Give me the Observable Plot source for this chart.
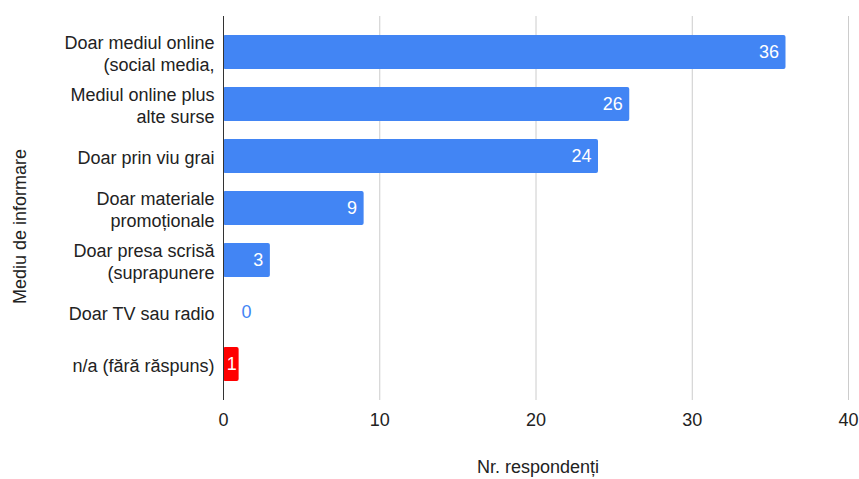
<!DOCTYPE html>
<html>
<head>
<meta charset="utf-8">
<script src="https://cdn.jsdelivr.net/npm/d3@7"></script>
<script src="https://cdn.jsdelivr.net/npm/@observablehq/plot@0.6"></script>
<style>
  html, body { margin: 0; padding: 0; background: #fff; }
</style>
</head>
<body>
<div id="chart"></div>
<script>
const categories = [
  "Doar mediul online\n(social media,",
  "Mediul online plus\nalte surse",
  "Doar prin viu grai",
  "Doar materiale\npromoționale",
  "Doar presa scrisă\n(suprapunere",
  "Doar TV sau radio",
  "n/a (fără răspuns)"
];
const values = [36, 26, 24, 9, 3, 0, 1];
const xTicks = [0, 10, 20, 30, 40];
const xTitle = "Nr. respondenți";
const yTitle = "Mediu de informare";

const data = categories.map((c, i) => ({cat: c, value: values[i]}));
const BLUE = "#4285f4", RED = "#ff0000";
const fillOf = d => d.cat.startsWith("n/a") ? RED : BLUE;
const FONT = "Arial, 'Liberation Sans', sans-serif";

const chart = Plot.plot({
  width: 859,
  height: 479,
  marginLeft: 223,
  marginRight: 11,
  marginTop: 25,
  marginBottom: 88,
  style: {fontFamily: FONT, fontSize: "18px", color: "#222", background: "#fff"},
  x: {domain: [0, 40], axis: null},
  y: {domain: categories, paddingInner: 0.35, paddingOuter: 0.175, axis: null},
  marks: [
    Plot.ruleX(xTicks.filter(t => t > 0), {stroke: "#cccccc", strokeWidth: 1, insetTop: -9, insetBottom: -9}),
    Plot.barX(data, {x: "value", y: "cat", fill: fillOf, rx: 2}),
    Plot.ruleX([0], {stroke: "#333", strokeWidth: 1, insetTop: -9, insetBottom: -9}),
    Plot.text(data.filter(d => d.value >= 2), {x: "value", y: "cat", text: d => String(d.value), textAnchor: "end", dx: -7, fill: "#fff", fontSize: 18}),
    Plot.text(data.filter(d => d.value > 0 && d.value < 2), {x: d => d.value / 2, y: "cat", text: d => String(d.value), textAnchor: "middle", dx: 0.5, fill: "#fff", fontSize: 18}),
    Plot.text(data.filter(d => d.value === 0), {x: "value", y: "cat", text: d => String(d.value), textAnchor: "start", dx: 18, fill: BLUE, fontSize: 18}),
    Plot.text(data, {y: "cat", text: "cat", frameAnchor: "left", textAnchor: "end", dx: -9, lineHeight: 1.22, fill: "#222", fontSize: 18}),
    Plot.axisX({ticks: xTicks, tickSize: 0, tickPadding: 22, fontSize: 18, label: null, tickFormat: d => String(d), fill: "#222"}),
    Plot.text([xTitle], {text: d => d, frameAnchor: "bottom", dx: 2, dy: 76, lineAnchor: "middle", fontSize: 18, fill: "#222"}),
    Plot.text([yTitle], {text: d => d, frameAnchor: "left", dx: -203, dy: 18, rotate: -90, lineAnchor: "middle", textAnchor: "middle", fontSize: 18, fill: "#222"})
  ]
});
document.getElementById("chart").appendChild(chart);
</script>
</body>
</html>
